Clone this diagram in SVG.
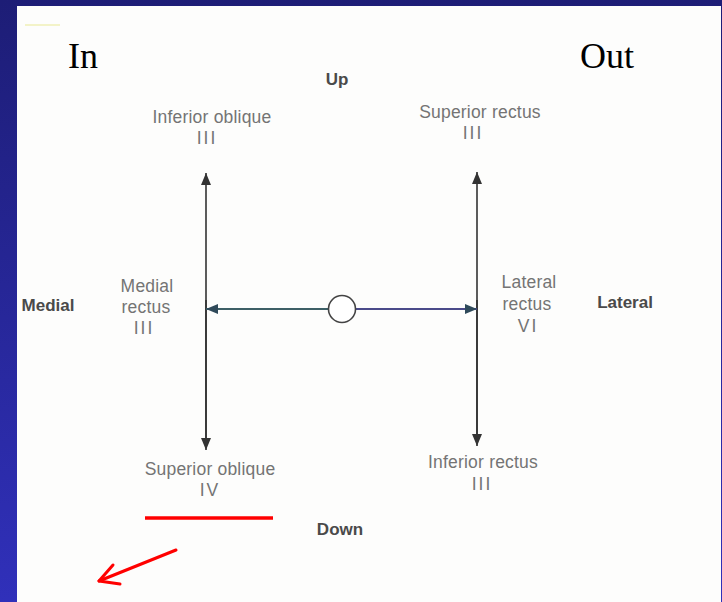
<svg xmlns="http://www.w3.org/2000/svg" width="722" height="602" viewBox="0 0 722 602">
<defs>
<linearGradient id="bg" x1="0" y1="0" x2="0" y2="1">
<stop offset="0" stop-color="#1d1d76"/>
<stop offset="1" stop-color="#3030ba"/>
</linearGradient>
<marker id="ah" viewBox="0 0 12 10" refX="12" refY="5" markerWidth="12" markerHeight="10" markerUnits="userSpaceOnUse" orient="auto">
<path d="M0,0 L12,5 L0,10 z" fill="#333"/>
</marker>
<marker id="ahb" viewBox="0 0 12 10" refX="12" refY="5" markerWidth="12" markerHeight="10" markerUnits="userSpaceOnUse" orient="auto">
<path d="M0,0 L12,5 L0,10 z" fill="#2f4a5a"/>
</marker>
</defs>
<style>
.lbl{font-family:"Liberation Sans",Arial,sans-serif;font-size:17.5px;fill:#747474;text-anchor:middle;letter-spacing:0.2px}
.num{letter-spacing:2px}
.dir{font-family:"Liberation Sans",Arial,sans-serif;font-size:17px;font-weight:bold;fill:#4a4a4a;text-anchor:middle}
.big{font-family:"Liberation Serif","Times New Roman",serif;font-size:36px;fill:#000}
.ln{stroke:#333;stroke-width:1.6;fill:none}
.red{stroke:#ff0000;fill:none;stroke-linecap:round;stroke-linejoin:round}
</style>
<rect x="0" y="0" width="722" height="602" fill="url(#bg)"/>
<rect x="17" y="6" width="704" height="596" fill="#fdfdfc"/>
<line x1="25" y1="25" x2="60" y2="25" stroke="#f3f3c8" stroke-width="2"/>

<text class="big" x="68" y="68">In</text>
<text class="big" x="580" y="68">Out</text>

<g id="connectors">
<line class="ln" x1="206" y1="448" x2="206" y2="173" marker-end="url(#ah)"/>
<line class="ln" x1="206" y1="300" x2="206" y2="450" marker-end="url(#ah)"/>
<line class="ln" x1="477" y1="444" x2="477" y2="172" marker-end="url(#ah)"/>
<line class="ln" x1="477" y1="300" x2="477" y2="446" marker-end="url(#ah)"/>
<line x1="328" y1="309" x2="206" y2="309" stroke="#3d5f66" stroke-width="1.8" marker-end="url(#ahb)"/>
<line x1="356" y1="309" x2="477" y2="309" stroke="#4a4a8a" stroke-width="1.8" marker-end="url(#ahb)"/>
</g>

<g id="eye">
<circle cx="342" cy="309" r="13.5" fill="#fff" stroke="#444" stroke-width="1.6"/>
</g>

<g id="up"><text class="dir" x="337" y="85">Up</text></g>
<g id="down"><text class="dir" x="340" y="535">Down</text></g>
<g id="medial"><text class="dir" x="48" y="311">Medial</text></g>
<g id="lateral"><text class="dir" x="625" y="308">Lateral</text></g>

<g id="inferior-oblique">
<text class="lbl" x="212" y="123">Inferior oblique</text>
<text class="lbl num" x="207" y="144">III</text>
</g>
<g id="superior-rectus">
<text class="lbl" x="480" y="118">Superior rectus</text>
<text class="lbl num" x="473" y="139">III</text>
</g>
<g id="medial-rectus">
<text class="lbl" x="147" y="292">Medial</text>
<text class="lbl" x="146" y="313">rectus</text>
<text class="lbl num" x="144" y="334">III</text>
</g>
<g id="lateral-rectus">
<text class="lbl" x="529" y="288">Lateral</text>
<text class="lbl" x="527" y="310">rectus</text>
<text class="lbl num" x="528" y="332">VI</text>
</g>
<g id="superior-oblique">
<text class="lbl" x="210" y="475">Superior oblique</text>
<text class="lbl num" x="210" y="496">IV</text>
</g>
<g id="inferior-rectus">
<text class="lbl" x="483" y="468">Inferior rectus</text>
<text class="lbl num" x="482" y="490">III</text>
</g>

<g id="annotations">
<line x1="145" y1="518" x2="273" y2="518" stroke="#ff0000" stroke-width="3.5"/>
<polyline class="red" points="176,550 99,581" stroke-width="3"/>
<polyline class="red" points="113,565 99,581 120,584" stroke-width="3"/>
</g>
</svg>
